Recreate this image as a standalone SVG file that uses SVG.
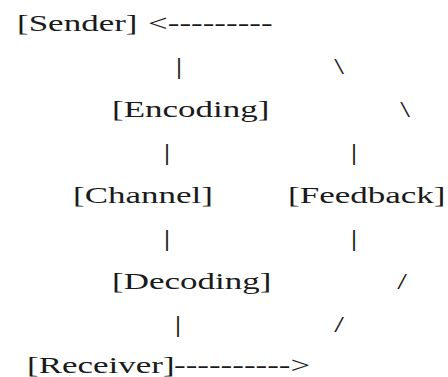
<svg xmlns="http://www.w3.org/2000/svg" width="448" height="377" viewBox="0 0 448 377">
<style>
text{font-family:"Liberation Serif","Times New Roman",serif;font-size:24px;fill:#1a1a1a}
.c{text-anchor:middle}
</style>
<rect width="448" height="377" fill="#ffffff"/>
<g id="sender"><text transform="translate(17,31) scale(1.458,1)">[Sender]</text></g>
<g id="encoding"><text transform="translate(112,117) scale(1.458,1)">[Encoding]</text></g>
<g id="channel"><text transform="translate(73,203) scale(1.458,1)">[Channel]</text></g>
<g id="feedback"><text transform="translate(288,203) scale(1.46,1)">[Feedback]</text></g>
<g id="decoding"><text transform="translate(112,289) scale(1.458,1)">[Decoding]</text></g>
<g id="receiver"><text transform="translate(27,373) scale(1.458,1)">[Receiver]</text></g>
<g id="connectors">
<text transform="translate(148,31) scale(1.458,1)">&lt;---------</text>
<text class="c" transform="translate(179,74) scale(1.458,1)">|</text>
<text class="c" transform="translate(339,74) scale(1.458,1)">\</text>
<text class="c" transform="translate(405,117) scale(1.458,1)">\</text>
<text class="c" transform="translate(167,160) scale(1.458,1)">|</text>
<text class="c" transform="translate(354,160) scale(1.458,1)">|</text>
<text class="c" transform="translate(167,246) scale(1.458,1)">|</text>
<text class="c" transform="translate(354,246) scale(1.458,1)">|</text>
<text class="c" transform="translate(402,289) scale(1.458,1)">/</text>
<text class="c" transform="translate(178,332) scale(1.458,1)">|</text>
<text class="c" transform="translate(339,332) scale(1.458,1)">/</text>
<text transform="translate(174,373) scale(1.458,1)">----------&gt;</text>
</g>
</svg>
